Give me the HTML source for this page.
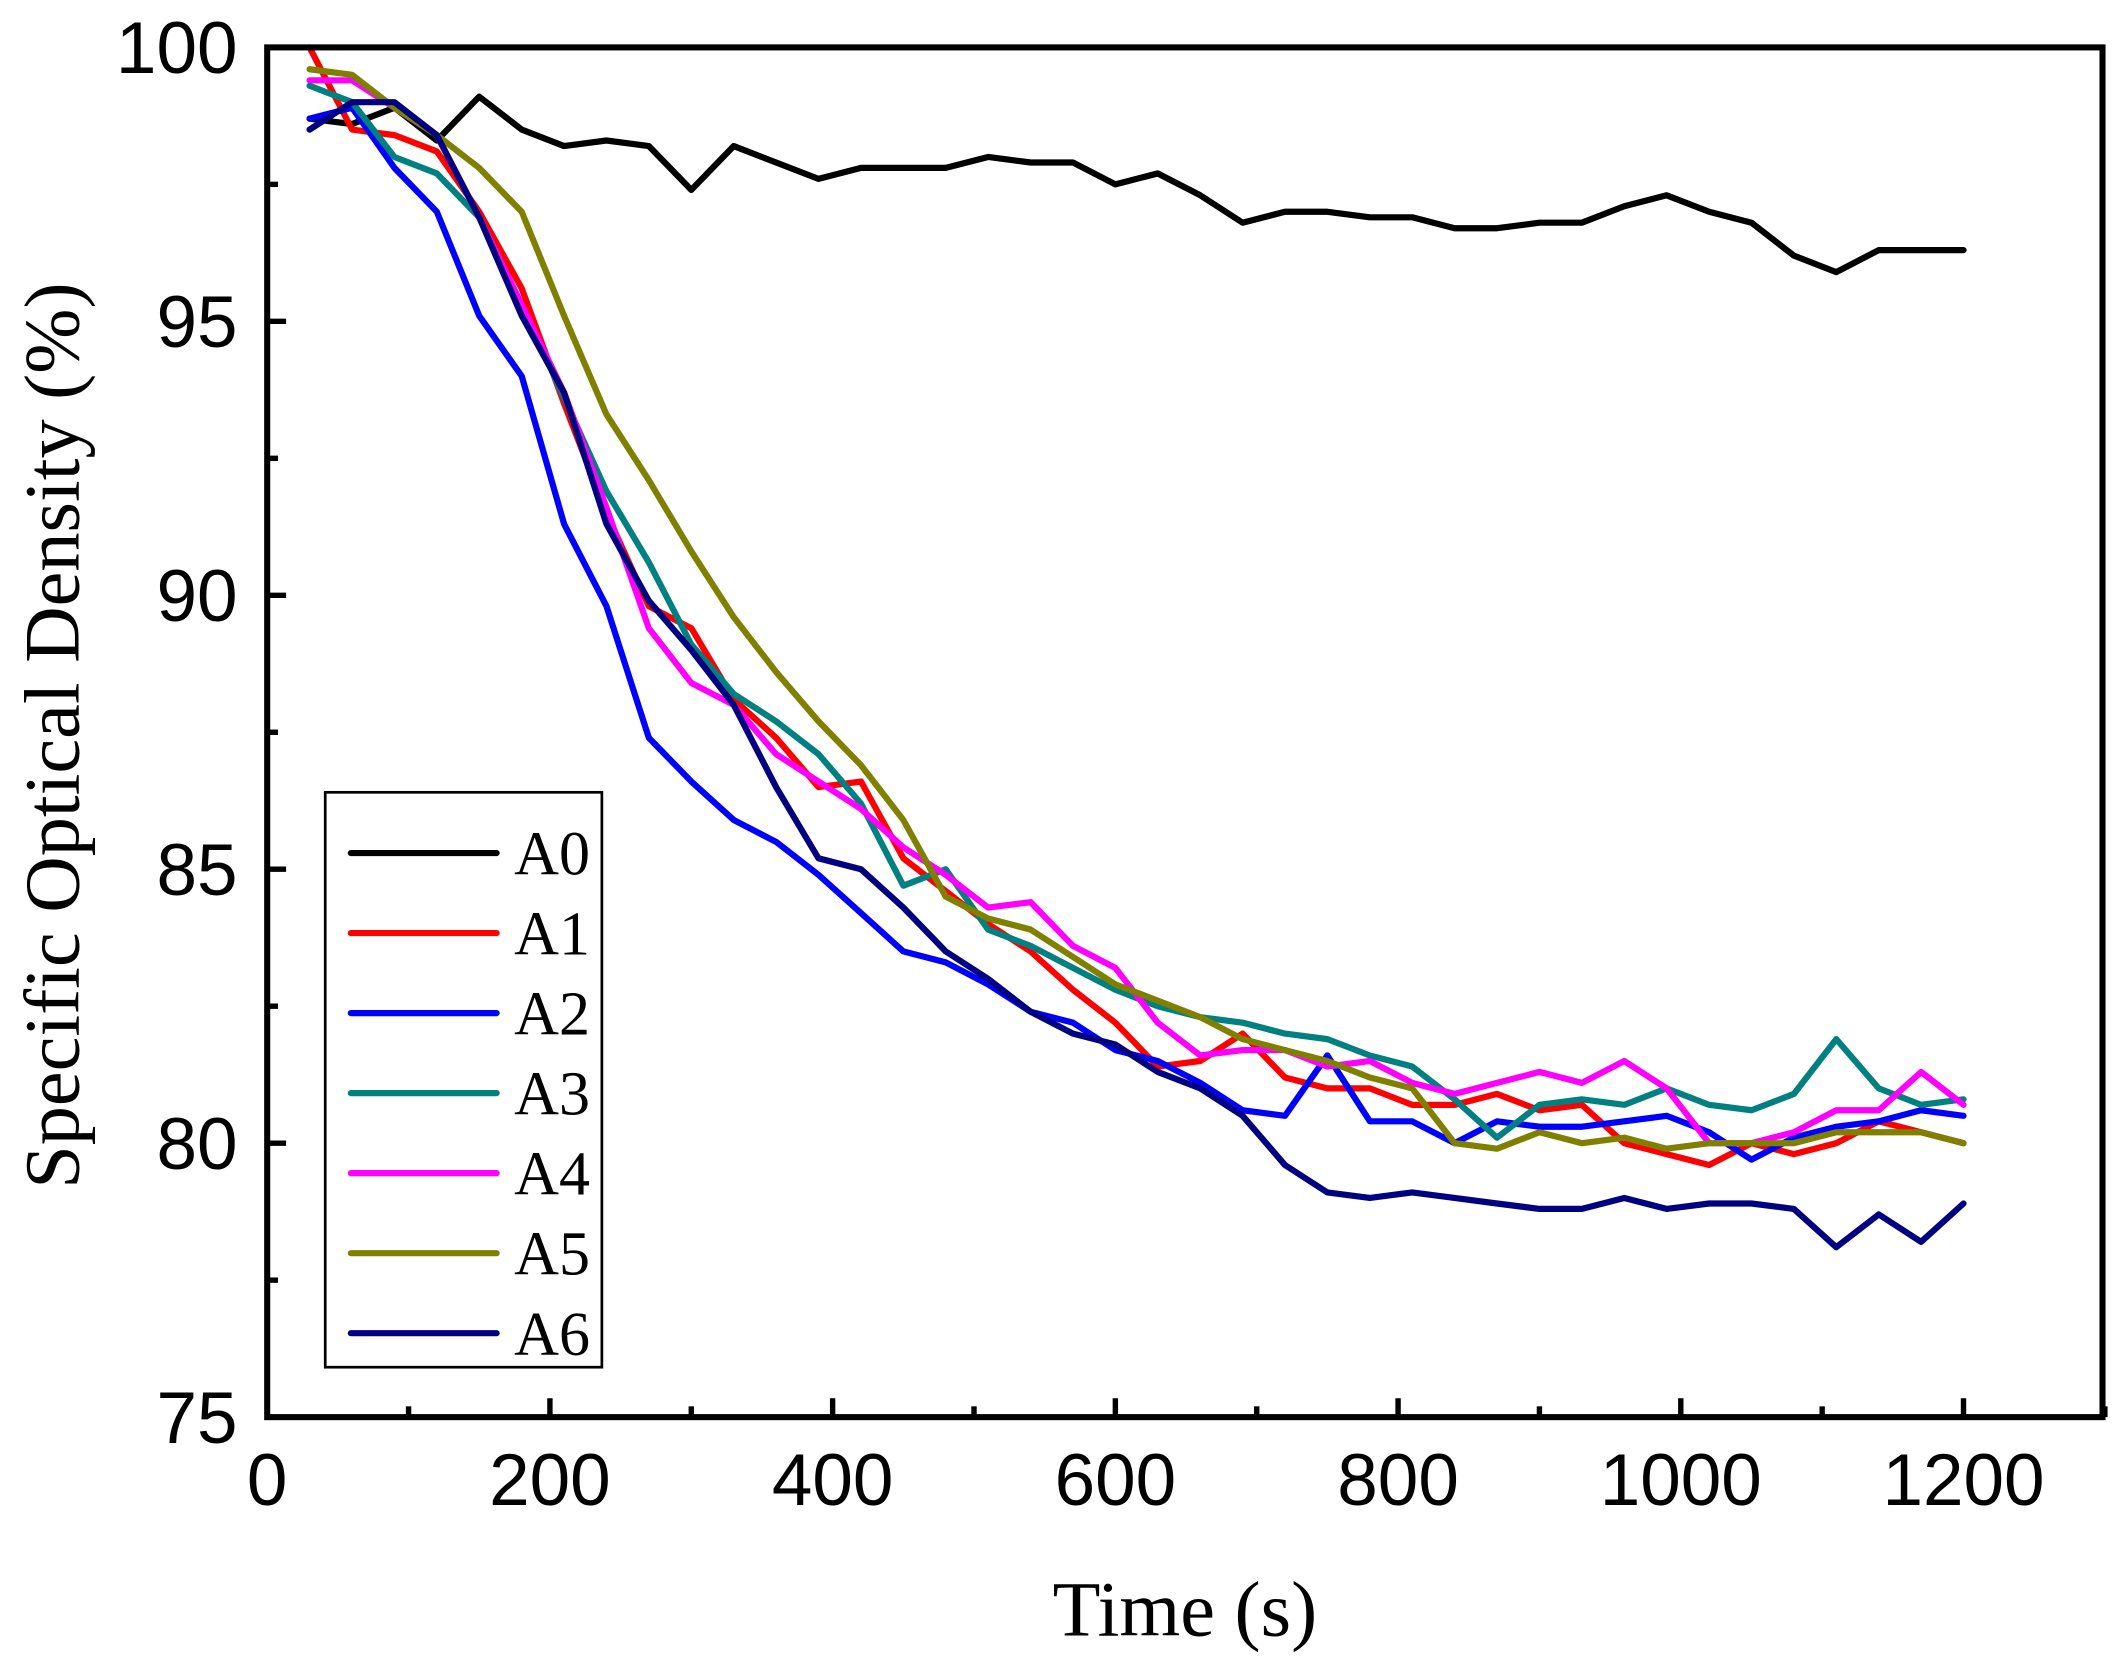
<!DOCTYPE html>
<html><head><meta charset="utf-8"><style>
html,body{margin:0;padding:0;background:#fff;}
svg{display:block;}
</style></head><body>
<svg id="s" width="2116" height="1671" viewBox="0 0 1568 1238" xmlns="http://www.w3.org/2000/svg">
<rect width="1568" height="1238" fill="#fff"/>
<g id="d" fill="none" stroke-width="4.6" stroke-linejoin="round" stroke-linecap="round"></g>
<rect x="198" y="35" width="1360" height="1015" fill="none" stroke="#000" stroke-width="4.5"/>
<g id="t" stroke="#000" stroke-width="4"></g>
<g font-family="'Liberation Sans',Arial,sans-serif" font-size="54" fill="#000" id="lab"></g>
<text x="878" y="1212" font-family="'Liberation Serif','Times New Roman',serif" font-size="58" text-anchor="middle">Time (s)</text>
<text transform="translate(58,545) rotate(-90)" font-family="'Liberation Serif','Times New Roman',serif" font-size="58" text-anchor="middle">Specific Optical Density (%)</text>
<rect x="241" y="587" width="205" height="426" fill="#fff" stroke="#000" stroke-width="2"/>
<g id="leg" font-family="'Liberation Serif','Times New Roman',serif" font-size="46"></g>
</svg>
<script>
var NS="http://www.w3.org/2000/svg";
function X(t){return 198+t*1.0475;}
function Y(v){return 35+(100-v)*40.6;}
var data={
A0:[98.7,98.6,98.9,98.3,99.1,98.5,98.2,98.3,98.2,97.4,98.2,97.9,97.6,97.8,97.8,97.8,98.0,97.9,97.9,97.5,97.7,97.3,96.8,97.0,97.0,96.9,96.9,96.7,96.7,96.8,96.8,97.1,97.3,97.0,96.8,96.2,95.9,96.3,96.3,96.3],
A1:[100.0,98.5,98.4,98.1,97.0,95.6,93.5,91.5,89.8,89.4,88.1,87.4,86.5,86.6,85.2,84.6,84.0,83.5,82.8,82.2,81.4,81.5,82.0,81.2,81.0,81.0,80.7,80.7,80.9,80.6,80.7,80.0,79.8,79.6,80.0,79.8,80.0,80.4,80.2,80.0],
A2:[98.7,98.9,97.8,97.0,95.1,94.0,91.3,89.8,87.4,86.6,85.9,85.5,84.9,84.2,83.5,83.3,82.9,82.4,82.2,81.7,81.5,81.1,80.6,80.5,81.6,80.4,80.4,80.0,80.4,80.3,80.3,80.4,80.5,80.2,79.7,80.1,80.3,80.4,80.6,80.5],
A3:[99.3,99.0,98.0,97.7,96.9,95.3,93.6,91.9,90.6,89.1,88.2,87.7,87.1,86.2,84.7,85.0,83.9,83.6,83.2,82.8,82.5,82.3,82.2,82.0,81.9,81.6,81.4,80.8,80.1,80.7,80.8,80.7,81.0,80.7,80.6,80.9,81.9,81.0,80.7,80.8],
A4:[99.4,99.4,98.9,98.4,96.9,95.3,93.7,91.6,89.4,88.4,88.0,87.1,86.6,86.1,85.4,84.9,84.3,84.4,83.6,83.2,82.2,81.6,81.7,81.7,81.4,81.5,81.1,80.9,81.1,81.3,81.1,81.5,81.0,80.0,80.0,80.2,80.6,80.6,81.3,80.7],
A5:[99.6,99.5,98.9,98.4,97.8,97.0,95.1,93.3,92.1,90.8,89.6,88.6,87.7,86.9,85.9,84.5,84.1,83.9,83.4,82.9,82.6,82.3,81.9,81.7,81.5,81.2,81.0,80.0,79.9,80.2,80.0,80.1,79.9,80.0,80.0,80.0,80.2,80.2,80.2,80.0],
A6:[98.5,99.0,99.0,98.4,96.9,95.1,93.7,91.3,89.9,89.0,88.0,86.5,85.2,85.0,84.3,83.5,83.0,82.4,82.0,81.8,81.3,81.0,80.5,79.6,79.1,79.0,79.1,79.0,78.9,78.8,78.8,79.0,78.8,78.9,78.9,78.8,78.1,78.7,78.2,78.9]};
var col={A0:"#000",A1:"#ff0000",A2:"#0000ff",A3:"#008080",A4:"#ff00ff",A5:"#808000",A6:"#000080"};
var d=document.getElementById("d"),leg=document.getElementById("leg");
var keys=["A0","A1","A2","A3","A4","A5","A6"];
keys.forEach(function(k,i){
 var p=data[k].map(function(v,j){return X(30*(j+1)).toFixed(1)+","+Y(v).toFixed(1);}).join(" ");
 var pl=document.createElementNS(NS,"polyline");pl.setAttribute("points",p);pl.setAttribute("stroke",col[k]);d.appendChild(pl);
 var yy=632+i*59.3;
 var l=document.createElementNS(NS,"line");l.setAttribute("x1",260);l.setAttribute("x2",368);l.setAttribute("y1",yy);l.setAttribute("y2",yy);
 l.setAttribute("stroke",col[k]);l.setAttribute("stroke-width",4.6);l.setAttribute("stroke-linecap","round");leg.appendChild(l);
 var t=document.createElementNS(NS,"text");t.setAttribute("x",381);t.setAttribute("y",yy+16);t.textContent=k;leg.appendChild(t);
});
var tg=document.getElementById("t"),lab=document.getElementById("lab");
function ln(x1,y1,x2,y2){var l=document.createElementNS(NS,"line");l.setAttribute("x1",x1);l.setAttribute("y1",y1);l.setAttribute("x2",x2);l.setAttribute("y2",y2);tg.appendChild(l);}
function tx(x,y,s,a){var t=document.createElementNS(NS,"text");t.setAttribute("x",x);t.setAttribute("y",y);t.setAttribute("text-anchor",a);t.textContent=s;lab.appendChild(t);}
for(var t=0;t<=1300;t+=100){var x=X(t);if(t>0)ln(x,1050,x,t%200==0?1036:1042);if(t%200==0&&t<=1200)tx(x,1115,String(t),"middle");}
for(var v=75;v<=100;v+=2.5){var y=Y(v);if(v>75&&v<100)ln(198,y,v%5==0?212:206,y);if(v%5==0)tx(176,y+19,String(v),"end");}
</script>
</body></html>
